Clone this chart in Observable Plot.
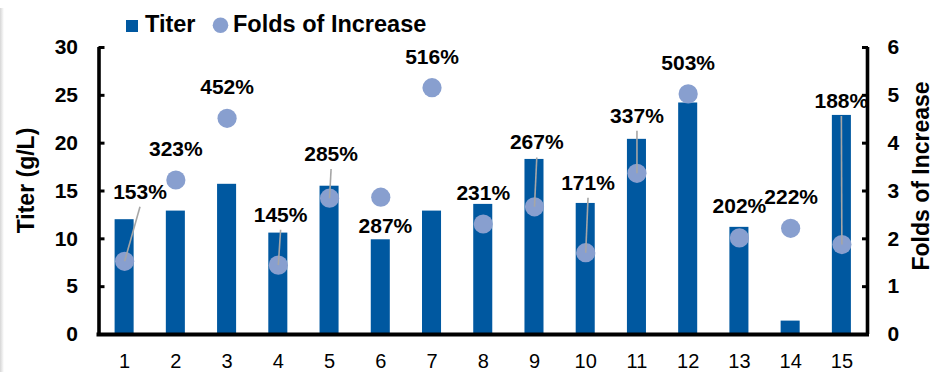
<!DOCTYPE html>
<html>
<head>
<meta charset="utf-8">
<script src="https://cdn.jsdelivr.net/npm/d3@7"></script>
<script src="https://cdn.jsdelivr.net/npm/@observablehq/plot@0.6"></script>
<style>
  html, body { margin: 0; padding: 0; background: #fff; }
  body { width: 944px; height: 383px; position: relative; overflow: hidden; font-family: "Liberation Sans", Arial, sans-serif; }
  #edge { position: absolute; left: 0; top: 8px; width: 4px; height: 364px; background: linear-gradient(to right, #d6d6d6, #ffffff); }
  #legend { display: block; }
</style>
</head>
<body>
<div id="edge"></div>
<svg id="legend" width="944" height="40">
  <rect x="126" y="20" width="12" height="12" fill="#0058A0"></rect>
  <text x="145" y="32.3" font-family="Liberation Sans, Arial, sans-serif" font-weight="bold" font-size="23.5" fill="#000">Titer</text>
  <circle cx="220.5" cy="25.3" r="7.8" fill="#889FCF"></circle>
  <text x="233" y="32.3" font-family="Liberation Sans, Arial, sans-serif" font-weight="bold" font-size="23.5" fill="#000">Folds of Increase</text>
</svg>
<div id="chart"></div>
<script>
// ---- data ----
const categories = [1, 2, 3, 4, 5, 6, 7, 8, 9, 10, 11, 12, 13, 14, 15];
const titer = [12.0, 12.9, 15.7, 10.6, 15.5, 9.9, 12.9, 13.6, 18.3, 13.7, 20.4, 24.2, 11.2, 1.4, 22.9];
const folds = [1.53, 3.23, 4.52, 1.45, 2.85, 2.87, 5.16, 2.31, 2.67, 1.71, 3.37, 5.03, 2.02, 2.22, 1.88];
const labels = ["153%", "323%", "452%", "145%", "285%", "287%", "516%", "231%", "267%", "171%", "337%", "503%", "202%", "222%", "188%"];
const leftTicks = [0, 5, 10, 15, 20, 25, 30];
const rightTicks = [0, 1, 2, 3, 4, 5, 6];

// ---- label layout (data label placement, as dragged in the original) ----
const labelShift = [0.30, 0, 0, 0.045, 0.03, 0.09, 0, 0, 0.045, 0.045, 0, 0, 0, 0.01, -0.01];
const labelLevel = [2.98, 3.87, 5.16, 2.50, 3.77, 2.27, 5.79, 2.96, 4.01, 3.17, 4.57, 5.68, 2.69, 2.86, 4.88];
const hasLeader = [1, 0, 0, 1, 1, 0, 0, 0, 1, 1, 1, 0, 0, 0, 1];

const titerMax = 30, foldMax = 6, k = titerMax / foldMax;

const rows = categories.map((c, i) => ({
  cat: c, titer: titer[i], fold: folds[i], label: labels[i],
  lx: c + labelShift[i], ly: labelLevel[i], leader: hasLeader[i]
}));

const BLUE = "#0058A0", DOT = "#889FCF", GRAY = "#A6A6A6";
const FONT = "Liberation Sans, Arial, sans-serif";

const chart = Plot.plot({
  width: 944,
  height: 343,
  marginTop: 7,
  marginBottom: 49,
  marginLeft: 98.5,
  marginRight: 77,
  style: { fontFamily: FONT, fontSize: "20px", color: "#000", background: "transparent", overflow: "visible" },
  x: { type: "linear", domain: [0.5, 15.5], axis: null },
  y: { domain: [0, titerMax], axis: null },
  marks: [
    Plot.rectY(rows, { x1: d => d.cat - 0.5, x2: d => d.cat + 0.5, y: "titer", fill: BLUE, insetLeft: 16.1, insetRight: 16.1 }),
    Plot.dot(rows, { x: "cat", y: d => d.fold * k, r: 9.6, fill: DOT }),
    Plot.link(rows.filter(d => d.leader), {
      x1: "lx", y1: d => (d.ly - 0.31) * k, x2: "cat", y2: d => d.fold * k,
      stroke: GRAY, strokeWidth: 1.6
    }),
    Plot.text(rows, {
      x: "lx", y: d => d.ly * k, text: "label",
      fontSize: 21, fontWeight: "bold", fill: "#000", lineAnchor: "middle"
    }),
    // axes
    Plot.axisY(leftTicks, {
      anchor: "left", tickSize: 6, dx: 6, tickPadding: 21, strokeWidth: 3,
      fontSize: 21, fontWeight: "bold", label: null
    }),
    Plot.axisY(rightTicks.map(t => t * k), {
      anchor: "right", tickSize: 6, dx: -6, tickPadding: 20, strokeWidth: 3,
      tickFormat: d => d / k, fontSize: 21, fontWeight: "bold", label: null
    }),
    Plot.axisX(categories, {
      anchor: "bottom", tickSize: 0, tickPadding: 19, fontSize: 20, label: null
    }),
    Plot.ruleX([0.5, 15.5], { y1: 0, y2: titerMax, stroke: "#000", strokeWidth: 3.6 }),
    Plot.ruleY([0], { x1: 0.5, x2: 15.5, stroke: "#000", strokeWidth: 4, strokeLinecap: "square" }),
    // axis titles
    Plot.text(["Titer (g/L)"], {
      frameAnchor: "left", textAnchor: "middle", rotate: -90, dx: -72.5, dy: -10.5,
      fontSize: 23, fontWeight: "bold", fill: "#000", lineAnchor: "middle"
    }),
    Plot.text(["Folds of Increase"], {
      frameAnchor: "right", textAnchor: "middle", rotate: -90, dx: 54.5, dy: -15,
      fontSize: 23, fontWeight: "bold", fill: "#000", lineAnchor: "middle"
    })
  ]
});
document.getElementById("chart").appendChild(chart);
</script>
</body>
</html>
